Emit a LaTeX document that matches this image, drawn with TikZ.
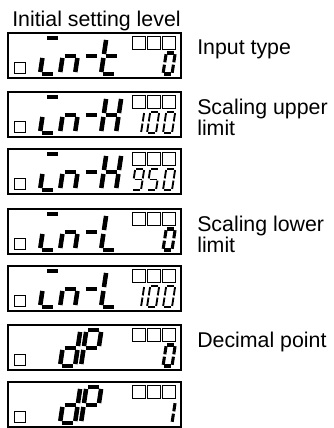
\documentclass[tikz,border=0pt]{standalone}
\usepackage{fontspec}
\setmainfont{Liberation Sans}
\newcommand{\digslant}{0.18}

\begin{document}
\begin{tikzpicture}[
x=0.75pt, y=-0.75pt,
frame/.style={draw, line width=1.5pt},
lamp/.style={draw, line width=0.6pt},
bigdig/.style={xscale=15, yscale=18},
smalldig/.style={xscale=9, yscale=10.5},
bigseg/.style={line width=3.4pt, shorten <=1.5pt, shorten >=1.5pt},
smallseg/.style={line width=1.4pt, shorten <=0.8pt, shorten >=0.8pt},
boldseg/.style={line width=2.3pt, shorten <=0.9pt, shorten >=0.9pt},
label/.style={anchor=north west, inner sep=0pt, align=left, font=\fontsize{16}{14.5}\selectfont},
pics/digit/.style args={#1/#2}{code={
  \coordinate (a1) at (2*\digslant,0); \coordinate (a2) at (1+2*\digslant,0);
  \coordinate (b1) at (1+2*\digslant,0); \coordinate (b2) at (1+\digslant,1);
  \coordinate (c1) at (1+\digslant,1); \coordinate (c2) at (1,2);
  \coordinate (d1) at (0,2); \coordinate (d2) at (1,2);
  \coordinate (e1) at (\digslant,1); \coordinate (e2) at (0,2);
  \coordinate (f1) at (2*\digslant,0); \coordinate (f2) at (\digslant,1);
  \coordinate (g1) at (\digslant,1); \coordinate (g2) at (1+\digslant,1);
  \foreach \q in {#1} \draw[#2] (\q1) -- (\q2);
}}
]
\useasboundingbox (0,0) rectangle (334,428);

% display frames and lamps
\foreach \t in {33,92,149,209,266,325,382} {
  \draw[frame] (8,\t) rectangle ++(173,45);
  \draw[lamp] (14,\t+29) rectangle ++(11,11);
  \foreach \k in {0,1,2}
    \draw[lamp] (132+15*\k,\t+3) rectangle ++(13,13);
}

% in- prefix
\foreach \t in {33,92,149,209,266} {
  \pic[bigdig] at (40,\t+5) {digit={a,d,e/bigseg}};
  \pic[bigdig] at (60,\t+5) {digit={c,e,g/bigseg}};
  \pic[bigdig] at (81,\t+5) {digit={g/bigseg}};
}
\pic[bigdig] at (101,38) {digit={d,e,f,g/bigseg}};
\foreach \t in {92,149}
  \pic[bigdig] at (101,\t+5) {digit={b,c,e,f,g/bigseg}};
\foreach \t in {209,266}
  \pic[bigdig] at (101,\t+5) {digit={d,e,f/bigseg}};
\foreach \t in {325,382} {
  \pic[bigdig] at (60,\t+5) {digit={b,c,d,e,g/bigseg}};
  \pic[bigdig] at (81,\t+5) {digit={a,b,e,f,g/bigseg}};
}

% set values
\foreach \t in {33,209,325}
  \pic[smalldig] at (163,\t+20) {digit={a,b,c,d,e,f/boldseg}};
\foreach \t in {92,266} {
  \pic[smalldig] at (132,\t+20) {digit={b,c/smallseg}};
  \pic[smalldig] at (147,\t+20) {digit={a,b,c,d,e,f/smallseg}};
  \pic[smalldig] at (163,\t+20) {digit={a,b,c,d,e,f/smallseg}};
}
\pic[smalldig] at (132,169) {digit={a,b,c,d,f,g/smallseg}};
\pic[smalldig] at (147,169) {digit={a,c,d,f,g/smallseg}};
\pic[smalldig] at (163,169) {digit={a,b,c,d,e,f/smallseg}};
\pic[smalldig] at (163,402) {digit={b,c/boldseg}};

\node[label] (title) at (12,11) {Initial setting level};
\node[label] (inputtype) at (197,40) {Input type};
\node[label] (upper) at (197,99) {Scaling upper\\limit};
\node[label] (lower) at (197,216) {Scaling lower\\limit};
\node[label] (decimal) at (197,332) {Decimal point};

\end{tikzpicture}
\end{document}
